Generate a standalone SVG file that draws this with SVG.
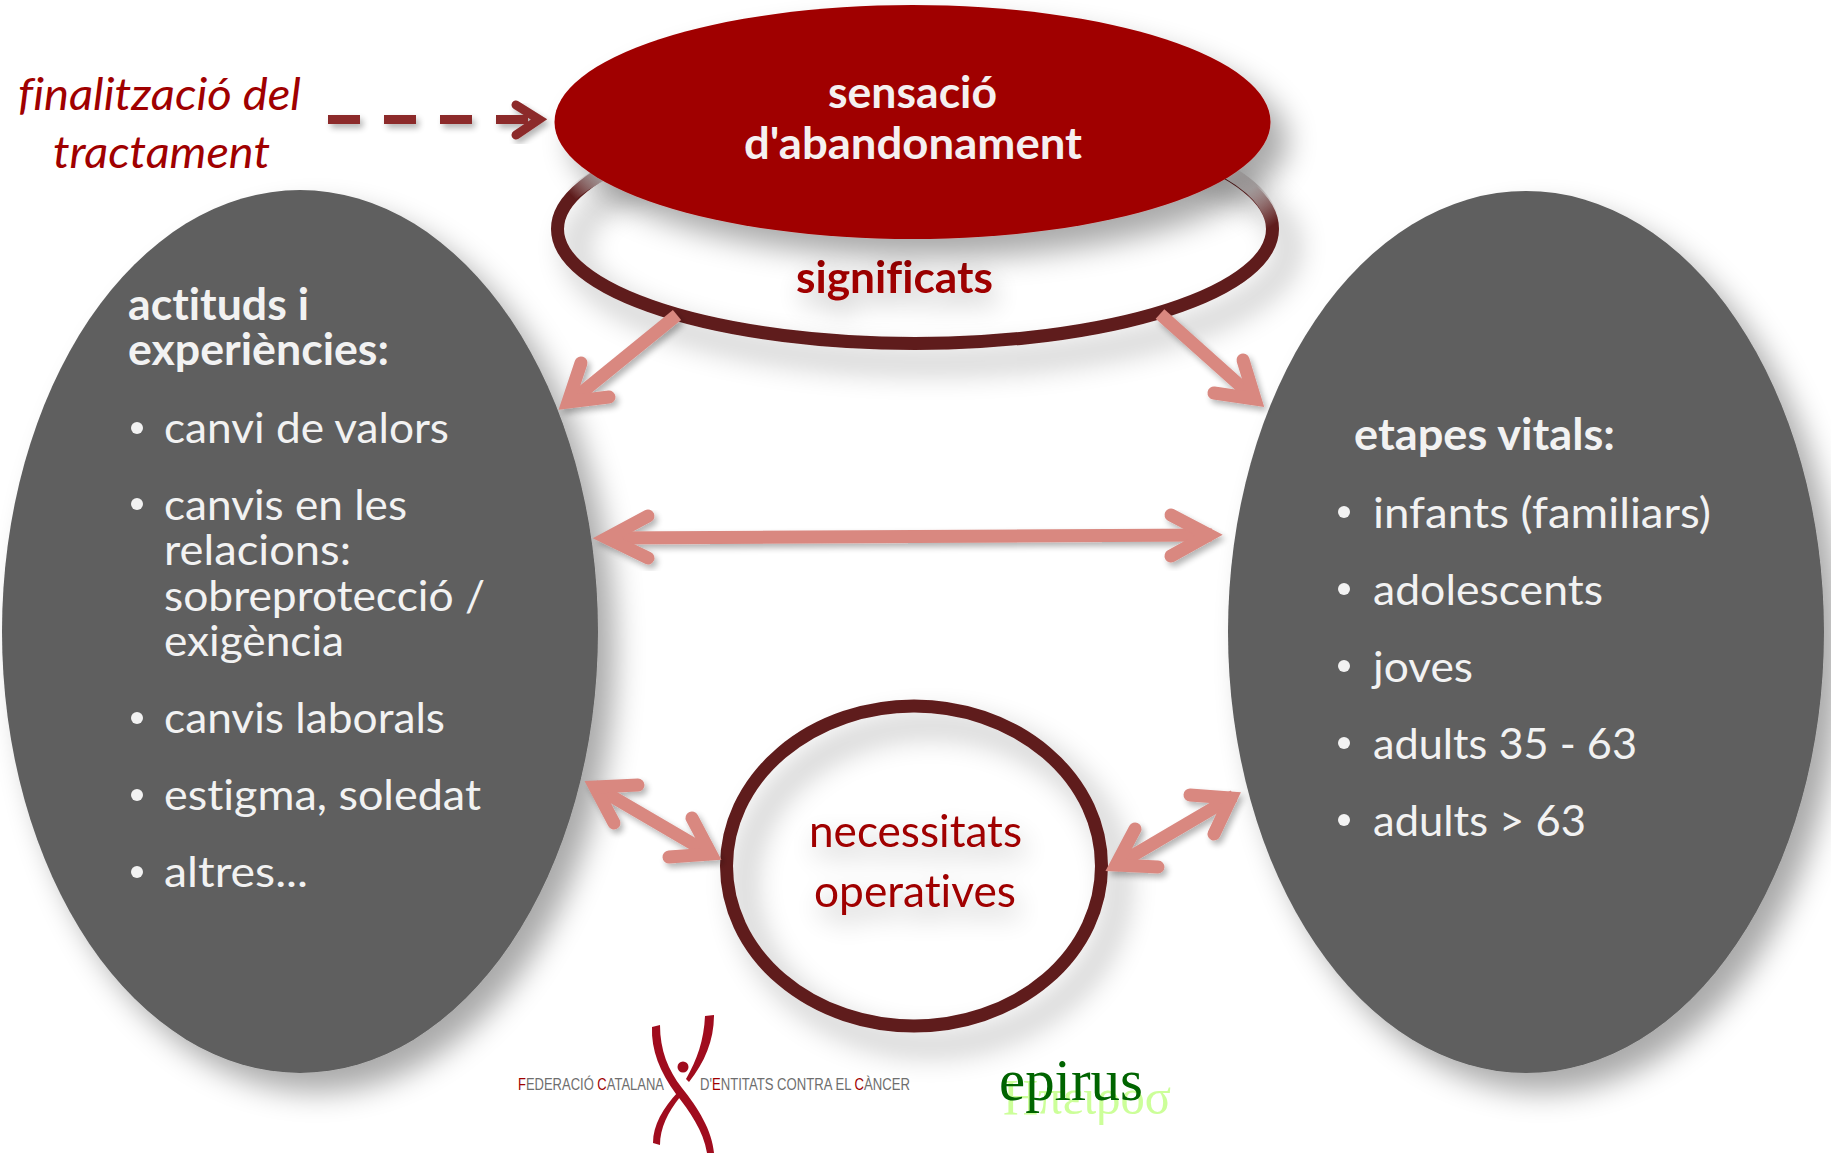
<svg xmlns="http://www.w3.org/2000/svg" width="1831" height="1153" viewBox="0 0 1831 1153">
<style>
text{font-family:Lato,"Noto Sans",sans-serif;font-variant-ligatures:none}
.w{font-size:43px;fill:#f2f2f2}
.b{font-weight:700}
.r{fill:#a00000}
.dot{fill:#f2f2f2}
.gray{fill:#5f5f5f}
.ring{fill:none;stroke:#5f1b1b;stroke-width:13}
.arr{fill:none;stroke:#d98880;stroke-width:13;stroke-linecap:round;stroke-linejoin:miter;stroke-miterlimit:10}
.shaft{fill:none;stroke:#d98880;stroke-width:13;stroke-linecap:butt}
</style>
<defs>
<filter id="sh" x="-20%" y="-20%" width="150%" height="150%"><feGaussianBlur in="SourceAlpha" stdDeviation="15"/><feOffset dx="17" dy="19"/><feComponentTransfer><feFuncA type="linear" slope=".34"/></feComponentTransfer><feMerge><feMergeNode/><feMergeNode in="SourceGraphic"/></feMerge></filter>
<filter id="shs" x="-20%" y="-20%" width="150%" height="150%"><feGaussianBlur in="SourceAlpha" stdDeviation="3"/><feOffset dx="3" dy="4"/><feComponentTransfer><feFuncA type="linear" slope=".3"/></feComponentTransfer><feMerge><feMergeNode/><feMergeNode in="SourceGraphic"/></feMerge></filter>
<filter id="sht" x="-30%" y="-80%" width="160%" height="260%"><feGaussianBlur in="SourceAlpha" stdDeviation="13"/><feOffset dx="4" dy="12"/><feComponentTransfer><feFuncA type="linear" slope=".3"/></feComponentTransfer><feMerge><feMergeNode/><feMergeNode in="SourceGraphic"/></feMerge></filter>
<linearGradient id="fr" gradientUnits="userSpaceOnUse" x1="1235" y1="172" x2="1272" y2="226"><stop offset="0" stop-color="#e4e0e0"/><stop offset=".35" stop-color="#c4bcbc"/><stop offset="1" stop-color="#c4bcbc" stop-opacity="0"/></linearGradient>
<linearGradient id="fl" gradientUnits="userSpaceOnUse" x1="598" y1="170" x2="572" y2="196"><stop offset="0" stop-color="#d8d0d0"/><stop offset="1" stop-color="#d8d0d0" stop-opacity="0"/></linearGradient>
</defs>
<rect width="1831" height="1153" fill="#fff"/>

<g id="node-actituds">
<ellipse class="gray" cx="300" cy="631.5" rx="298" ry="441.5" filter="url(#sh)"/>
<text class="w b" x="128" y="320" textLength="181" lengthAdjust="spacingAndGlyphs">actituds i</text>
<text class="w b" x="128" y="365" textLength="261" lengthAdjust="spacingAndGlyphs">experiències:</text>
<circle class="dot" cx="137" cy="428" r="6"/>
<text class="w" x="164" y="443" textLength="285" lengthAdjust="spacingAndGlyphs">canvi de valors</text>
<circle class="dot" cx="137" cy="504" r="6"/>
<text class="w" x="164" y="520" textLength="243" lengthAdjust="spacingAndGlyphs">canvis en les</text>
<text class="w" x="164" y="565" textLength="187" lengthAdjust="spacingAndGlyphs">relacions:</text>
<text class="w" x="164" y="611" textLength="321" lengthAdjust="spacingAndGlyphs">sobreprotecció /</text>
<text class="w" x="164" y="656" textLength="180" lengthAdjust="spacingAndGlyphs">exigència</text>
<circle class="dot" cx="137" cy="718" r="6"/>
<text class="w" x="164" y="733" textLength="281" lengthAdjust="spacingAndGlyphs">canvis laborals</text>
<circle class="dot" cx="137" cy="795" r="6"/>
<text class="w" x="164" y="810" textLength="317" lengthAdjust="spacingAndGlyphs">estigma, soledat</text>
<circle class="dot" cx="137" cy="872" r="6"/>
<text class="w" x="164" y="887" textLength="144" lengthAdjust="spacingAndGlyphs">altres...</text>
</g>

<g id="node-etapes">
<ellipse class="gray" cx="1526" cy="632" rx="298" ry="441" filter="url(#sh)"/>
<text class="w b" x="1354" y="450" textLength="261" lengthAdjust="spacingAndGlyphs">etapes vitals:</text>
<circle class="dot" cx="1344" cy="512" r="6"/>
<text class="w" x="1373" y="528" textLength="338" lengthAdjust="spacingAndGlyphs">infants (familiars)</text>
<circle class="dot" cx="1344" cy="589" r="6"/>
<text class="w" x="1373" y="605" textLength="230" lengthAdjust="spacingAndGlyphs">adolescents</text>
<circle class="dot" cx="1344" cy="666" r="6"/>
<text class="w" x="1373" y="682" textLength="100" lengthAdjust="spacingAndGlyphs">joves</text>
<circle class="dot" cx="1344" cy="743" r="6"/>
<text class="w" x="1373" y="759" textLength="264" lengthAdjust="spacingAndGlyphs">adults 35 - 63</text>
<circle class="dot" cx="1344" cy="820" r="6"/>
<text class="w" x="1373" y="836" textLength="213" lengthAdjust="spacingAndGlyphs">adults &gt; 63</text>
</g>

<g id="node-significats">
<ellipse class="ring" cx="915" cy="229" rx="357.5" ry="114.5" filter="url(#sh)"/>
<path d="M1215 165A357.5 114.5 0 0 1 1272.5 229" fill="none" stroke="url(#fr)" stroke-width="14"/>
<path d="M610 170A357.5 114.5 0 0 0 565 200" fill="none" stroke="url(#fl)" stroke-width="14"/>
<text class="r b" x="796" y="293" font-size="44" textLength="197" lengthAdjust="spacingAndGlyphs" filter="url(#sht)">significats</text>
</g>

<g id="node-sensacio">
<ellipse cx="912.5" cy="122" rx="358" ry="117" fill="#a00000" filter="url(#sh)"/>
<text class="b" x="828" y="108" font-size="43" fill="#f5f0f0" textLength="169" lengthAdjust="spacingAndGlyphs">sensació</text>
<text class="b" x="744" y="159" font-size="43" fill="#f5f0f0" textLength="338" lengthAdjust="spacingAndGlyphs">d'abandonament</text>
</g>

<g id="node-necessitats">
<ellipse class="ring" cx="914" cy="866" rx="187.5" ry="160" filter="url(#sh)"/>
<g filter="url(#sht)">
<text class="r" x="809" y="847" font-size="45" textLength="213" lengthAdjust="spacingAndGlyphs">necessitats</text>
<text class="r" x="814" y="907" font-size="45" textLength="202" lengthAdjust="spacingAndGlyphs">operatives</text>
</g>
</g>

<g id="node-finalitzacio">
<text class="r" x="18" y="110" font-size="45" font-style="italic" textLength="283" lengthAdjust="spacingAndGlyphs">finalització del</text>
<text class="r" x="53" y="168" font-size="45" font-style="italic" textLength="217" lengthAdjust="spacingAndGlyphs">tractament</text>
</g>

<g id="connectors">
<g filter="url(#shs)">
<path d="M328 119.5H528" fill="none" stroke="#8c2b2b" stroke-width="9" stroke-dasharray="32 24"/>
<path d="M516 105L539 119.5L516 135" fill="none" stroke="#8c2b2b" stroke-width="9" stroke-linecap="round" stroke-linejoin="miter"/>
</g>
<g filter="url(#shs)">
<path class="shaft" d="M677 315L570 402"/>
<path class="arr" d="M581 363L568 402L609 397"/>
</g>
<g filter="url(#shs)">
<path class="shaft" d="M1160 314L1254 398"/>
<path class="arr" d="M1243 360L1255 399L1214 393"/>
</g>
<g filter="url(#shs)">
<path class="shaft" d="M606 538L1212 535"/>
<path class="arr" d="M648 516L607 538L648 558"/>
<path class="arr" d="M1171 515L1209 535L1171 556"/>
</g>
<g filter="url(#shs)">
<path class="shaft" d="M594 786L712 855"/>
<path class="arr" d="M638 785L595 787L614 823"/>
<path class="arr" d="M692 818L711 854L669 857"/>
</g>
<g filter="url(#shs)">
<path class="shaft" d="M1234 796L1115 866"/>
<path class="arr" d="M1190 795L1231 798L1214 834"/>
<path class="arr" d="M1135 829L1116 865L1158 867"/>
</g>
</g>

<g id="logo-fecec">
<text x="518" y="1090" font-size="17" style="font-family:'Liberation Sans',Arial,sans-serif" fill="#6e6e6e" textLength="146" lengthAdjust="spacingAndGlyphs"><tspan fill="#a00000">F</tspan>EDERACIÓ <tspan fill="#a00000">C</tspan>ATALANA</text>
<text x="700" y="1090" font-size="17" style="font-family:'Liberation Sans',Arial,sans-serif" fill="#6e6e6e" textLength="210" lengthAdjust="spacingAndGlyphs">D'<tspan fill="#a00000">E</tspan>NTITATS CONTRA EL <tspan fill="#a00000">C</tspan>ÀNCER</text>
<path d="M652 1027L660 1025C660 1050 668 1070 682 1088C698 1108 712 1130 714 1153L707 1153C703 1130 690 1112 676 1094C660 1072 651 1050 652 1027Z" fill="#a00c1e"/>
<path d="M705 1016L714 1015C714 1040 705 1062 689 1082L686 1079C697 1060 704 1040 705 1016Z" fill="#a00c1e"/>
<path d="M678 1092L680 1097C668 1112 660 1128 660 1145L653 1143C653 1125 663 1108 678 1092Z" fill="#a00c1e"/>
<circle cx="683" cy="1067" r="5.5" fill="#a00c1e"/>
</g>

<g id="logo-epirus">
<text x="1003" y="1114" font-size="50" style="font-family:'Liberation Serif','Times New Roman',serif" fill="#ccff99" textLength="168" lengthAdjust="spacingAndGlyphs">Ηπειροσ</text>
<text x="999" y="1100" font-size="60" style="font-family:'Liberation Serif','Times New Roman',serif" fill="#006400" textLength="144" lengthAdjust="spacingAndGlyphs">epirus</text>
</g>
</svg>
